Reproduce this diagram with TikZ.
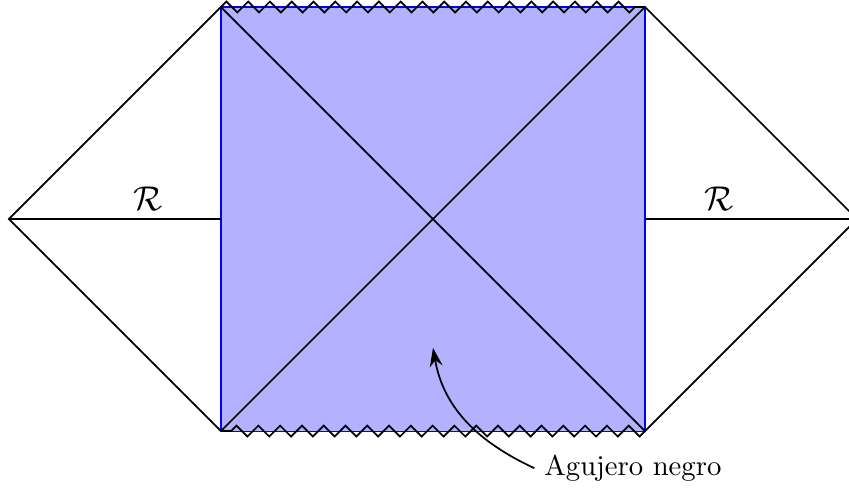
\documentclass[tikz,border=0pt]{standalone}
\usepackage{amsmath,amssymb}
\usetikzlibrary{decorations.pathmorphing,arrows.meta}
\begin{document}
\begin{tikzpicture}[x=2.6cm,y=2.6cm,
  sing/.style={semithick,decorate,decoration={zigzag,segment length=7.6pt,amplitude=1.9pt}}]
\clip (-2.042,-1.292) rectangle (1.962,1.033);
\coordinate (nw) at (-1,1);
\coordinate (ne) at (1,1);
\coordinate (sw) at (-1,-1);
\coordinate (se) at (1,-1);
\coordinate (w) at (-2,0);
\coordinate (e) at (2,0);
\coordinate (wm) at (-1,0);
\coordinate (em) at (1,0);
\fill[blue!30,draw=blue] (sw) rectangle (ne);
\draw[semithick] (sw)--(ne);
\draw[semithick] (nw)--(se);
\draw[semithick] (nw)--(w)--(sw);
\draw[semithick] (w)--(wm);
\draw[semithick] (ne)--(e)--(se);
\draw[semithick] (e)--(em);
% singularidades
\draw[sing] (nw)--(ne);
\draw[sing] (se)--(sw);
\node (rleft) at (-1.345,0.094) {\large$\mathcal{R}$};
\node (rright) at (1.35,0.094) {\large$\mathcal{R}$};
\coordinate (bh) at (0,-0.608);
\node (agujero) at (0.943,-1.175) {Agujero negro};
\draw[semithick,-{Stealth[length=6.5pt,width=4.5pt]}] (agujero.west) to[out=155,in=-80] (bh);
\end{tikzpicture}
\end{document}
